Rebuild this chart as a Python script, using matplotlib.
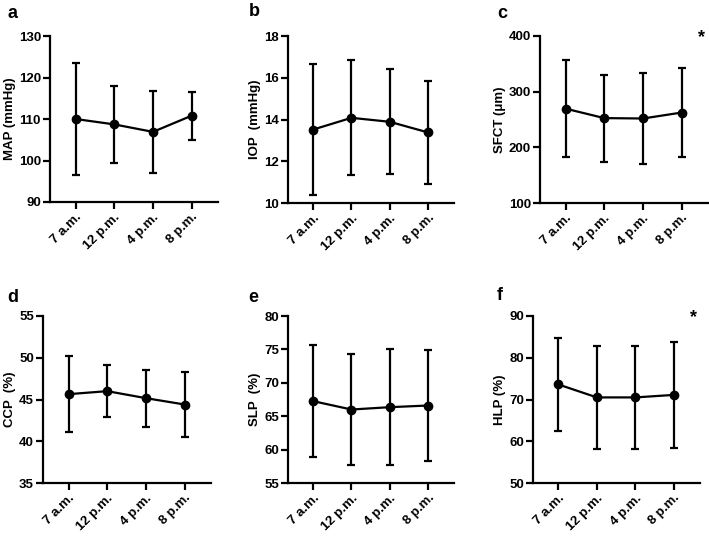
import matplotlib
matplotlib.use("Agg")
import matplotlib.pyplot as plt

plt.rcParams["font.family"] = ["Liberation Sans", "DejaVu Sans"]
plt.rcParams["font.weight"] = "bold"

# données (moyenne et écart-type)
heures = ["7 a.m.", "12 p.m.", "4 p.m.", "8 p.m."]

map_moy = [110.0, 108.7, 106.9, 110.8]
map_sd = [13.6, 9.3, 9.8, 5.8]

iop_moy = [13.52, 14.08, 13.89, 13.38]
iop_sd = [3.13, 2.75, 2.52, 2.45]

sfct_moy = [269.5, 252.5, 251.8, 262.5]
sfct_sd = [87.0, 78.0, 81.5, 80.5]

ccp_moy = [45.64, 46.0, 45.16, 44.4]
ccp_sd = [4.53, 3.1, 3.43, 3.95]

slp_moy = [67.25, 66.0, 66.35, 66.6]
slp_sd = [8.4, 8.3, 8.7, 8.35]

hlp_moy = [73.6, 70.5, 70.5, 71.1]
hlp_sd = [11.1, 12.4, 12.3, 12.6]

# panneaux : lettre, données, label y, limites, ticks, étoile
panneaux = [
    ("a", map_moy, map_sd, "MAP (mmHg)", (90, 130), [90, 100, 110, 120, 130], False),
    ("b", iop_moy, iop_sd, "IOP  (mmHg)", (10, 18), [10, 12, 14, 16, 18], False),
    ("c", sfct_moy, sfct_sd, "SFCT (\u03bcm)", (100, 400), [100, 200, 300, 400], True),
    ("d", ccp_moy, ccp_sd, "CCP  (%)", (35, 55), [35, 40, 45, 50, 55], False),
    ("e", slp_moy, slp_sd, "SLP  (%)", (55, 80), [55, 60, 65, 70, 75, 80], False),
    ("f", hlp_moy, hlp_sd, "HLP (%)", (50, 90), [50, 60, 70, 80, 90], True),
]

# position des axes en pixels : gauche, droite, haut, bas
cadres = [
    (50, 218, 36, 202),
    (288, 454, 36, 203),
    (540, 708, 36, 203),
    (43, 211, 316, 483),
    (288, 454, 316, 483),
    (533, 700, 316, 483),
]
# position des lettres (pixels)
lettres_xy = [(8, 13), (249, 12), (497, 13), (7, 297), (248, 297), (497, 296)]

W, H = 709, 536
fig = plt.figure(figsize=(W / 100, H / 100), dpi=100)

for (lettre, moy, sd, label, ylim, yticks, etoile), (g, d, h, b), (lx, ly) in zip(panneaux, cadres, lettres_xy):
    ax = fig.add_axes([g / W, 1 - b / H, (d - g) / W, (b - h) / H])
    x = list(range(len(heures)))
    ax.errorbar(x, moy, yerr=sd, color="black", marker="o", markersize=6,
                linewidth=1.6, elinewidth=1.6, capsize=3, capthick=1.6)
    ax.set_xlim(-0.66, 3.68)
    ax.set_ylim(*ylim)
    ax.set_yticks(yticks)
    ax.set_xticks(x)
    ax.set_xticklabels(heures, rotation=45, ha="right", rotation_mode="anchor")
    ax.set_ylabel(label, fontsize=9.5, fontweight="bold", labelpad=2)
    for s in ["top", "right"]:
        ax.spines[s].set_visible(False)
    for s in ["left", "bottom"]:
        ax.spines[s].set_linewidth(1.6)
    ax.tick_params(width=1.6, length=5, labelsize=9.5, pad=1.5)
    # lettre du panneau
    fig.text(lx / W, 1 - ly / H, lettre, fontsize=13,
             fontweight="bold", va="center", ha="left")
    if etoile:
        fig.text((d - 6) / W, 1 - (h + 2) / H, "*", fontsize=13,
                 fontweight="bold", ha="center", va="center")

fig.savefig("out.png", dpi=100)
